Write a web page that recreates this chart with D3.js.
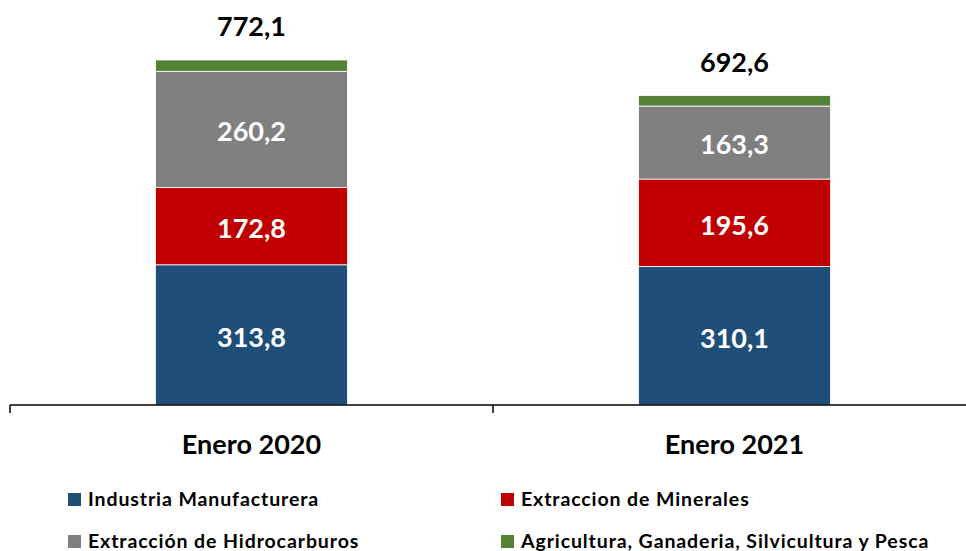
<!DOCTYPE html>
<html><head><meta charset="utf-8">
<script src="https://cdn.jsdelivr.net/npm/d3@7"></script>
<style>body{margin:0;background:#fff}svg{display:block;font-family:Lato,"Open Sans",sans-serif;font-weight:bold}</style>
</head><body><svg id="c" width="966" height="551"></svg>
<script>
const categories = ["Enero 2020", "Enero 2021"];
const seriesNames = ["Industria Manufacturera", "Extraccion de Minerales", "Extracción de Hidrocarburos", "Agricultura, Ganaderia, Silvicultura y Pesca"];
const industria = [313.8, 310.1];
const minerales = [172.8, 195.6];
const hidrocarburos = [260.2, 163.3];
const agricultura = [25.3, 23.6];
const totals = [772.1, 692.6];
const colors = ["#1F4E79", "#C00000", "#808080", "#538135"];

const svg = d3.select("#c");
const base = 405;
const x = d3.scaleBand().domain(categories).range([10, 976]).paddingInner(0).paddingOuter(0);
const y = d3.scaleLinear().domain([0, 772.1]).range([base, 60]);
const barW = 192;

const rows = categories.map((c, i) => ({cat: c, s0: industria[i], s1: minerales[i], s2: hidrocarburos[i], s3: agricultura[i]}));
const stack = d3.stack().keys(["s0", "s1", "s2", "s3"])(rows);
const fmt = v => d3.format(".1f")(v).replace(".", ",");

stack.forEach((layer, k) => {
  const g = svg.append("g");
  g.selectAll("rect").data(layer).enter().append("rect")
    .attr("x", d => x(d.data.cat) + x.bandwidth() / 2 - barW / 2)
    .attr("width", barW)
    .attr("y", d => y(d[1]))
    .attr("height", d => y(d[0]) - y(d[1]))
    .attr("fill", colors[k])
    .attr("stroke", "#fff").attr("stroke-width", 0.8);
  if (k < 3) {
    g.selectAll("text").data(layer).enter().append("text")
      .attr("x", d => x(d.data.cat) + x.bandwidth() / 2)
      .attr("y", d => (y(d[0]) + y(d[1])) / 2)
      .attr("dy", "0.44em")
      .attr("text-anchor", "middle").attr("fill", "#fff").attr("font-size", 27)
      .text(d => fmt(d[1] - d[0]));
  }
});

svg.selectAll("text.total").data(categories).enter().append("text")
  .attr("class", "total")
  .attr("x", c => x(c) + x.bandwidth() / 2)
  .attr("y", (c, i) => y(totals[i]) - 24)
  .attr("text-anchor", "middle").attr("font-size", 27).attr("fill", "#000")
  .text((c, i) => fmt(totals[i]));

// axis
svg.append("line").attr("x1", 10).attr("x2", 966).attr("y1", base).attr("y2", base)
  .attr("stroke", "#000").attr("stroke-width", 1.5);
const tickXs = [10, 10 + x.bandwidth(), 10 + 2 * x.bandwidth()];
svg.selectAll("line.tick").data(tickXs).enter().append("line")
  .attr("x1", d => d).attr("x2", d => d).attr("y1", base).attr("y2", base + 8)
  .attr("stroke", "#000").attr("stroke-width", 1.5);
svg.selectAll("text.cat").data(categories).enter().append("text")
  .attr("x", c => x(c) + x.bandwidth() / 2).attr("y", 454)
  .attr("text-anchor", "middle").attr("font-size", 27).attr("fill", "#000")
  .text(c => c);

// legend
const legPos = [[68, 493], [501, 493], [68, 535], [501, 535]];
seriesNames.forEach((n, i) => {
  const [lx, ly] = legPos[i];
  svg.append("rect").attr("x", lx).attr("y", ly).attr("width", 13).attr("height", 13).attr("fill", colors[i]);
  svg.append("text").attr("x", lx + 20).attr("y", ly + 13).attr("font-size", 19.5)
    .attr("letter-spacing", 0.9).attr("fill", "#000").text(n);
});
</script></body></html>
